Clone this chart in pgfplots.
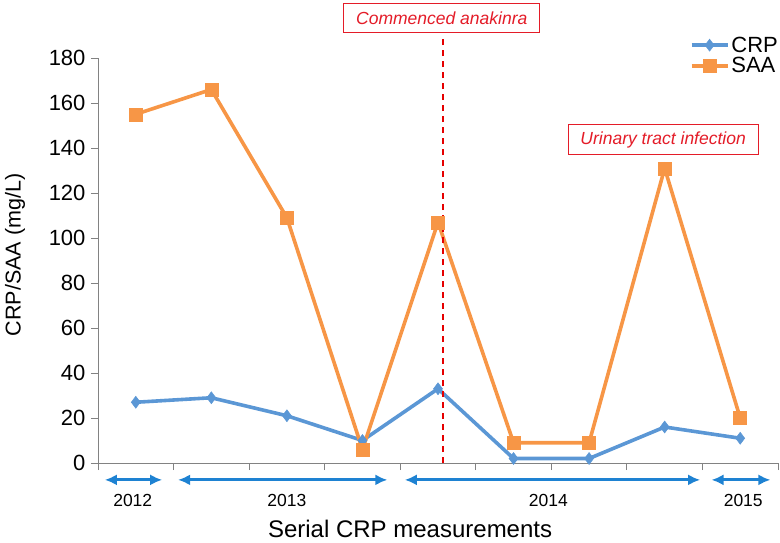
\documentclass[border=0pt]{standalone}
\usepackage{pgfplots}
\pgfplotsset{compat=1.18}
\usepackage{fontspec}
\setmainfont{Liberation Sans}
\usetikzlibrary{arrows.meta}
\definecolor{crpblue}{RGB}{91,151,213}
\definecolor{saaorange}{RGB}{247,150,70}
\definecolor{arrowblue}{RGB}{30,130,210}
\definecolor{annred}{RGB}{228,28,40}
\definecolor{axgray}{RGB}{130,130,130}
\begin{document}
\begin{tikzpicture}
\path[use as bounding box] (-98pt,-79pt) rectangle (682pt,463pt);
\begin{axis}[
  scale only axis,
  width=680pt, height=405pt,
  at={(0,0)}, anchor=south west,
  xmin=0, xmax=9, ymin=0, ymax=180,
  axis x line*=bottom, axis y line*=left,
  axis line style={axgray, line width=0.8pt},
  xtick={0,...,9}, xticklabels={},
  ytick={0,20,...,180},
  tick align=outside,
  major tick length=7pt,
  tick style={axgray, line width=0.8pt},
  /pgf/number format/assume math mode=true,
  yticklabel style={font=\fontsize{22}{26}\selectfont, xshift=-2pt},
  ylabel={CRP/SAA (mg/L)},
  ylabel style={font=\fontsize{21.5}{24}\selectfont, at={(axis description cs:-0.122,0.514)}, anchor=center},
  xlabel={Serial CRP measurements},
  xlabel style={font=\fontsize{24}{27}\selectfont, at={(axis description cs:0.459,-0.163)}, anchor=center},
  clip=false,
  legend style={draw=none, fill=none, at={(rel axis cs:0.870,1.058)}, anchor=north west,
    font=\fontsize{22}{24}\selectfont, inner sep=0pt, row sep=0pt,
    /tikz/every even column/.append style={column sep=3pt}},
  legend cell align=left,
  legend image code/.code={\draw[mark repeat=2,mark phase=2,#1] plot coordinates {(0pt,0pt) (18pt,0pt) (36pt,0pt)};},
]
\addplot[color=crpblue, line width=3.6pt, mark=diamond*, mark size=6pt, mark options={fill=crpblue, line width=0.5pt}]
coordinates {(0.5,27) (1.5,29) (2.5,21) (3.5,10) (4.5,33) (5.5,2) (6.5,2) (7.5,16) (8.5,11)};
\addlegendentry{CRP}
\addplot[color=saaorange, line width=3.6pt, mark=square*, mark size=6.5pt, mark options={fill=saaorange, line width=0.5pt}]
coordinates {(0.5,155) (1.5,166) (2.5,109) (3.5,6) (4.5,107) (5.5,9) (6.5,9) (7.5,131) (8.5,20)};
\addlegendentry{SAA}
\addplot[forget plot, draw=red!90!black, line width=1.9pt, dash pattern=on 6pt off 5pt]
coordinates {(4.57,0) (4.57,190)};

\node[draw=annred, line width=1pt, fill=white, text=annred, font=\fontsize{17.5}{20}\selectfont\itshape,
  minimum width=196pt, minimum height=29pt, inner sep=0pt] at (axis cs:4.55,197.6) {Commenced anakinra};
\node[draw=annred, line width=1pt, fill=white, text=annred, font=\fontsize{17.5}{20}\selectfont\itshape,
  minimum width=190pt, minimum height=30pt, inner sep=0pt] at (axis cs:7.48,143.6) {Urinary tract infection};

\draw[{Latex[length=12pt,width=11pt]}-{Latex[length=12pt,width=11pt]}, arrowblue, line width=3pt] (axis cs:0.09,-7.5) -- (axis cs:0.85,-7.5);
\draw[{Latex[length=12pt,width=11pt]}-{Latex[length=12pt,width=11pt]}, arrowblue, line width=3pt] (axis cs:1.06,-7.5) -- (axis cs:3.83,-7.5);
\draw[{Latex[length=12pt,width=11pt]}-{Latex[length=12pt,width=11pt]}, arrowblue, line width=3pt] (axis cs:4.06,-7.5) -- (axis cs:7.97,-7.5);
\draw[{Latex[length=12pt,width=11pt]}-{Latex[length=12pt,width=11pt]}, arrowblue, line width=3pt] (axis cs:8.12,-7.5) -- (axis cs:8.9,-7.5);
\node[font=\fontsize{17.5}{20}\selectfont] at (axis cs:0.46,-16.6) {2012};
\node[font=\fontsize{17.5}{20}\selectfont] at (axis cs:2.5,-16.6) {2013};
\node[font=\fontsize{17.5}{20}\selectfont] at (axis cs:5.96,-16.6) {2014};
\node[font=\fontsize{17.5}{20}\selectfont] at (axis cs:8.54,-16.6) {2015};
\end{axis}
\end{tikzpicture}
\end{document}
